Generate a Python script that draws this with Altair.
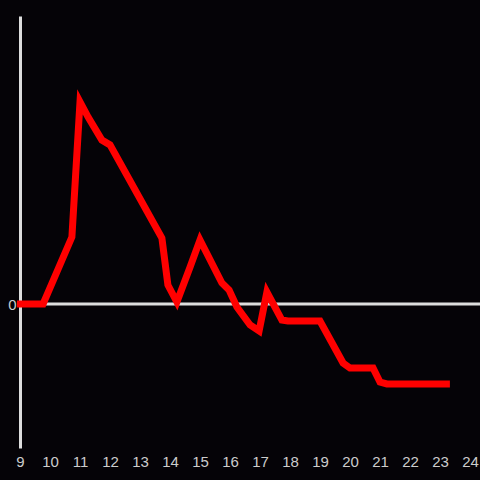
import altair as alt
import pandas as pd

hours = [8.9, 9.77, 10.73, 11.0, 11.27, 11.73, 12.0, 13.73, 13.93, 14.23, 14.67, 15.0,
         15.73, 15.97, 16.23, 16.67, 16.97, 17.23, 17.73, 17.93, 19.0, 19.77, 20.0,
         20.77, 21.0, 21.23, 23.33]
values = [0, 0, 2.79, 8.42, 7.79, 6.83, 6.63, 2.75, 0.79, 0.08, 1.54, 2.67,
          0.875, 0.58, -0.125, -0.875, -1.125, 0.5, -0.67, -0.71, -0.71, -2.46, -2.67,
          -2.67, -3.25, -3.33, -3.33]
x_ticks = list(range(9, 25))
y_ticks = [0]

BG = "#050307"

# Give the page itself the chart's dark background and let the chart fill the window.
try:
    import altair.utils.html as _ah

    class _DarkPage:
        def __init__(self, orig):
            self._orig = orig

        def render(self, *args, **kwargs):
            html = self._orig.render(*args, **kwargs)
            style = ("<style>html,body{background:%s;margin:0;padding:0;overflow:hidden;}"
                     ".vega-embed svg{display:block;}</style>" % BG)
            if "<head>" in html:
                return html.replace("<head>", "<head>" + style, 1)
            return style + html

    for _k in list(_ah.TEMPLATES.keys()):
        _ah.TEMPLATES[_k] = _DarkPage(_ah.TEMPLATES[_k])
except Exception:
    pass

df = pd.DataFrame({"hour": hours, "value": values})

x_scale = alt.Scale(domain=[9, 24], nice=False, zero=False)
y_scale = alt.Scale(domain=[-6, 12], nice=False, zero=False)

zero_rule = alt.Chart(pd.DataFrame({"v": [0]})).mark_rule(
    color="#dddddd", strokeWidth=3
).encode(
    y=alt.Y("v:Q", scale=y_scale,
            axis=alt.Axis(values=y_ticks, title=None, domain=True, domainColor="#dddddd",
                          domainWidth=3, ticks=False, grid=False, labelColor="#cccccc",
                          labelFontSize=15, labelFont="Liberation Sans", labelPadding=4)),
    x=alt.value(0),
    x2=alt.value(460),
)

line = alt.Chart(df).mark_line(
    color="#ff0000", strokeWidth=7, strokeCap="butt", strokeJoin="miter", clip=False
).encode(
    x=alt.X("hour:Q", scale=x_scale,
            axis=alt.Axis(values=x_ticks, title=None, domain=False, ticks=False, grid=False,
                          labelColor="#cccccc", labelFontSize=15, labelFont="Liberation Sans",
                          labelPadding=6, labelFlush=False, labelOverlap=False)),
    y=alt.Y("value:Q", scale=y_scale),
)

chart = alt.layer(zero_rule, line).properties(
    width=450, height=432,
    autosize=alt.AutoSizeParams(type="none"),
    padding={"left": 20, "top": 16, "right": 10, "bottom": 30},
    background=BG,
).configure_view(stroke=None)

chart.save("out.html", embed_options={"renderer": "svg", "actions": False})
